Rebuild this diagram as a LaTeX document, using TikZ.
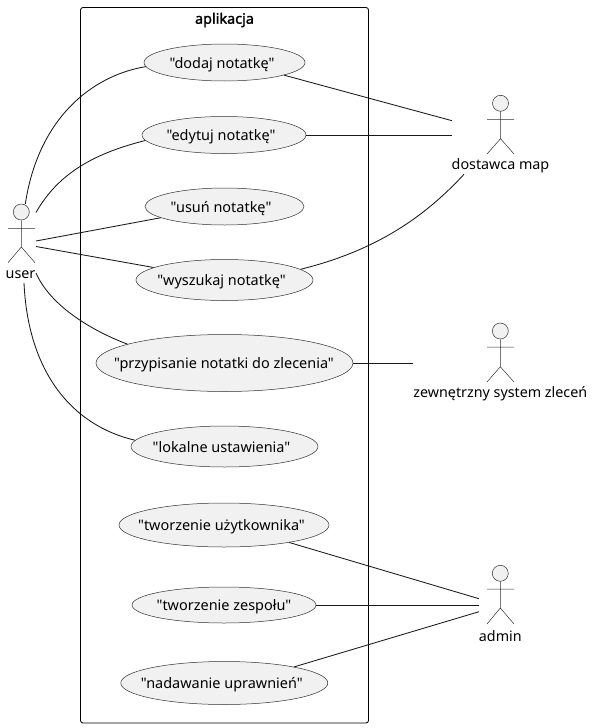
\documentclass[tikz,border=0pt]{standalone}
\usepackage{fontspec}
\newfontfamily\uifont{Noto Sans}
\newfontfamily\uibold{Noto Sans}[FakeBold=1.6]
\usetikzlibrary{shapes.geometric}
\definecolor{ucfill}{HTML}{F1F1F1}
\definecolor{ink}{HTML}{181818}
\definecolor{thinink}{HTML}{303030}
\newcommand\uclabel[2]{\hspace*{#1pt}\makebox[0pt]{\raisebox{-5.5pt}{#2}}\hspace*{-#1pt}}
\tikzset{
  usecase/.style={ellipse,draw=thinink,line width=0.5pt,fill=ucfill,inner sep=0pt,font=\uifont\fontsize{14.45}{16}\selectfont,text=black,text depth=0pt,text height=0pt},
  head/.style={circle,draw=thinink,line width=0.5pt,fill=ucfill,inner sep=0pt,minimum size=16pt},
  limb/.style={draw=thinink,line width=0.5pt},
  actorname/.style={inner sep=0pt,font=\uifont\fontsize{14.3}{16}\selectfont,text=black},
  frame/.style={draw=black,line width=0.85pt,rounded corners=2.5pt},
  link/.style={draw=ink,line width=0.85pt},
}
\begin{document}
\begin{tikzpicture}[x=1pt,y=-1pt]
\useasboundingbox (0,0) rectangle (593,728);
\draw[frame] (80.5,7.5) rectangle (368.5,723);
\node[inner sep=0pt,font=\uibold\fontsize{14.4}{16}\selectfont] (title) at (224.5,20) {aplikacja};

\node[usecase,minimum width=161pt,minimum height=37pt] (dodaj) at (224.5,62.5) {\uclabel{-2.5}{"dodaj notatkę"}};
\node[usecase,minimum width=164pt,minimum height=37pt] (edytuj) at (224,135) {\uclabel{-3}{"edytuj notatkę"}};
\node[usecase,minimum width=159pt,minimum height=37pt] (usun) at (224.5,206.5) {\uclabel{-3.5}{"usuń notatkę"}};
\node[usecase,minimum width=177pt,minimum height=41pt] (wyszukaj) at (224.5,280) {\uclabel{-3}{"wyszukaj notatkę"}};
\node[usecase,minimum width=257pt,minimum height=57pt] (przyp) at (224.5,363) {\uclabel{-0.5}{"przypisanie notatki do zlecenia"}};
\node[usecase,minimum width=187pt,minimum height=41pt] (lokalne) at (224.5,446.5) {\uclabel{-3}{"lokalne ustawienia"}};
\node[usecase,minimum width=210pt,minimum height=44pt] (tworzu) at (224,525) {\uclabel{-2.5}{"tworzenie użytkownika"}};
\node[usecase,minimum width=184pt,minimum height=36pt] (tworzz) at (224,605) {\uclabel{0}{"tworzenie zespołu"}};
\node[usecase,minimum width=207pt,minimum height=43pt] (nadaw) at (224.3,683) {\uclabel{-2.5}{"nadawanie uprawnień"}};

% actors
\node[head] (huser) at (21.3,212) {};
\draw[limb] (huser.south) -- (21.3,247) (8,228.3) -- (35,228.3) (8,262.7) -- (21.3,247) -- (35,262.7);
\node[actorname] (user) at (20.5,275) {user};
\node[head] (hmap) at (500.5,103.3) {};
\draw[limb] (hmap.south) -- (500.5,138.7) (487,119.3) -- (514,119.3) (487,154) -- (500.5,138.7) -- (514,154);
\node[actorname] (map) at (500.5,166) {dostawca map};
\node[head] (hsys) at (500.3,331) {};
\draw[limb] (hsys.south) -- (500.3,366.7) (487,347) -- (514,347) (487,382) -- (500.3,366.7) -- (514,382);
\node[actorname] (sys) at (500.3,394) {zewnętrzny system zleceń};
\node[head] (hadm) at (500.3,573.3) {};
\draw[limb] (hadm.south) -- (500.3,608) (487,589) -- (514,589) (487,624) -- (500.3,608) -- (514,624);
\node[actorname] (adm) at (500.3,636) {admin};

% free ends
\coordinate (ua) at (25.3,204);
\coordinate (ub) at (36,212.5);
\coordinate (uc) at (36,241);
\coordinate (ud) at (36,246.5);
\coordinate (ue) at (36,273);
\coordinate (uf) at (24,283);
\coordinate (ma) at (452,120.7);
\coordinate (mb) at (452,135);
\coordinate (mc) at (464,174.3);
\coordinate (sa) at (412.7,363);
\coordinate (aa) at (479,598.7);
\coordinate (ab) at (479,605);
\coordinate (ac) at (479,611.7);

% connectors
\draw[link] (ua) .. controls (38,120) and (90,76) .. (dodaj.183.3);
\draw[link] (ub) .. controls (60,170) and (100,152) .. (edytuj.184.5);
\draw[link] (uc) -- (usun.190.4);
\draw[link] (ud) -- (wyszukaj.170.2);
\draw[link] (ue) .. controls (50,305) and (90,330) .. (przyp.169.2);
\draw[link] (uf) .. controls (28,370) and (70,425) .. (lokalne.176.1);
\draw[link] (dodaj.348) -- (ma);
\draw[link] (edytuj.east) -- (mb);
\draw[link] (wyszukaj.8.3) .. controls (370,252) and (420,222) .. (mc);
\draw[link] (przyp.east) -- (sa);
\draw[link] (tworzu.345.2) -- (aa);
\draw[link] (tworzz.east) -- (ab);
\draw[link] (nadaw.13.8) -- (ac);
\end{tikzpicture}
\end{document}
